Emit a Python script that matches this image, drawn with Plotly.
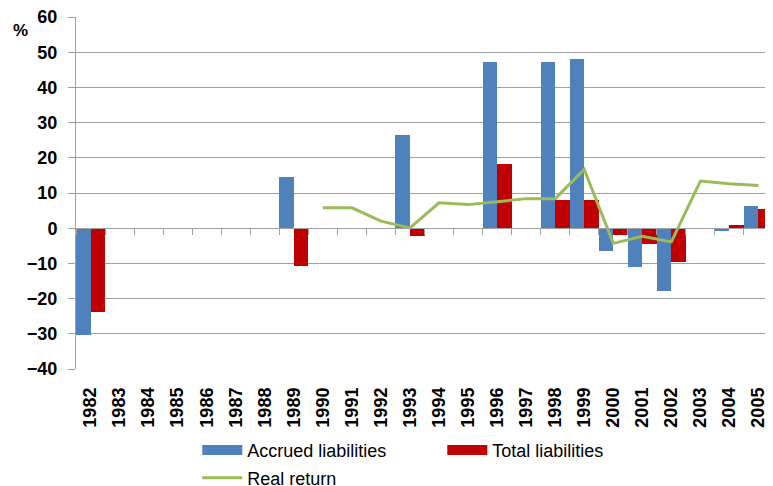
import plotly.graph_objs as go

years = [str(y) for y in range(1982, 2006)]

accrued = [-30.2, None, None, None, None, None, None, 14.6, None, None, None, 26.5,
           None, None, 47.2, None, 47.2, 48.1, -6.6, -11.0, -17.7, None, -0.9, 6.2]
total = [-23.8, None, None, None, None, None, None, -10.6, None, None, None, -2.3,
         None, None, 18.1, None, 8.0, 8.0, -1.8, -4.6, -9.7, None, 0.8, 5.5]
real_return = [None, None, None, None, None, None, None, None, 5.8, 5.8, 2.0, 0.1,
               7.2, 6.7, 7.5, 8.4, 8.4, 16.7, -4.3, -2.3, -3.9, 13.4, 12.6, 12.1]

blue = '#4F81BD'
red = '#C00000'
green = '#9BBB59'
grid = '#A0A0A0'
font = 'Liberation Sans'

fig = go.Figure()

fig.add_trace(go.Bar(x=years, y=accrued, name='Accrued liabilities', marker=dict(color=blue, line=dict(width=0)),
                     showlegend=False))
fig.add_trace(go.Bar(x=years, y=total, name='Total liabilities', marker=dict(color=red, line=dict(width=0)),
                     showlegend=False))
fig.add_trace(go.Scatter(x=years, y=real_return, mode='lines', name='Real return',
                         line=dict(color=green, width=3), showlegend=False))

# legend swatches drawn as thick lines so they come out wide like the original
fig.add_trace(go.Scatter(x=[None], y=[None], mode='lines', name='Accrued liabilities',
                         line=dict(color=blue, width=11), legend='legend'))
fig.add_trace(go.Scatter(x=[None], y=[None], mode='lines', name='Total liabilities',
                         line=dict(color=red, width=11), legend='legend'))
fig.add_trace(go.Scatter(x=[None], y=[None], mode='lines', name='Real return',
                         line=dict(color=green, width=3), legend='legend2'))

# axis through zero with tick marks between the years
fig.add_trace(go.Scatter(x=years, y=[None] * len(years), xaxis='x2', showlegend=False, hoverinfo='skip'))

# page body has an 8px margin, so the figure is 8px smaller each way
fig.update_layout(
    width=765, height=478,
    margin=dict(l=68, r=0, t=9, b=117, autoexpand=False),
    paper_bgcolor='white', plot_bgcolor='white',
    font=dict(family=font, size=18, color='black'),
    barmode='group', bargap=0, bargroupgap=0,
    xaxis=dict(type='category', range=[-0.5, 23.5], tickangle=-90, ticks='', showgrid=False,
               showline=False, zeroline=False, ticklabelstandoff=14, ticklabeloverflow='allow',
               tickfont=dict(family=font, size=18, weight='bold')),
    xaxis2=dict(type='category', range=[-0.5, 23.5], overlaying='x', anchor='free', position=0.4,
                side='bottom', showticklabels=False, ticks='outside', ticklen=6, tickcolor=grid,
                tickson='boundaries', showline=True, linecolor=grid, linewidth=1, showgrid=False,
                zeroline=False),
    yaxis=dict(range=[-40, 60], dtick=10, showgrid=True, gridcolor=grid, gridwidth=1, zeroline=False,
               showline=True, linecolor=grid, ticks='outside', ticklen=7, tickcolor=grid,
               ticklabelstandoff=7, ticklabeloverflow='allow',
               tickfont=dict(family=font, size=18, weight='bold')),
    legend=dict(orientation='h', x=0.174, y=-0.231, xanchor='left', yanchor='middle',
                itemwidth=40, entrywidth=190, font=dict(size=18), bgcolor='rgba(0,0,0,0)'),
    legend2=dict(orientation='h', x=0.174, y=-0.31, xanchor='left', yanchor='middle',
                 itemwidth=40, font=dict(size=18), bgcolor='rgba(0,0,0,0)'),
    annotations=[dict(text='<b>%</b>', xref='paper', yref='paper', x=-0.066, y=0.963,
                      xanchor='right', yanchor='middle', showarrow=False, font=dict(size=17))],
    hovermode='x'
)

fig.write_html("out.html")
